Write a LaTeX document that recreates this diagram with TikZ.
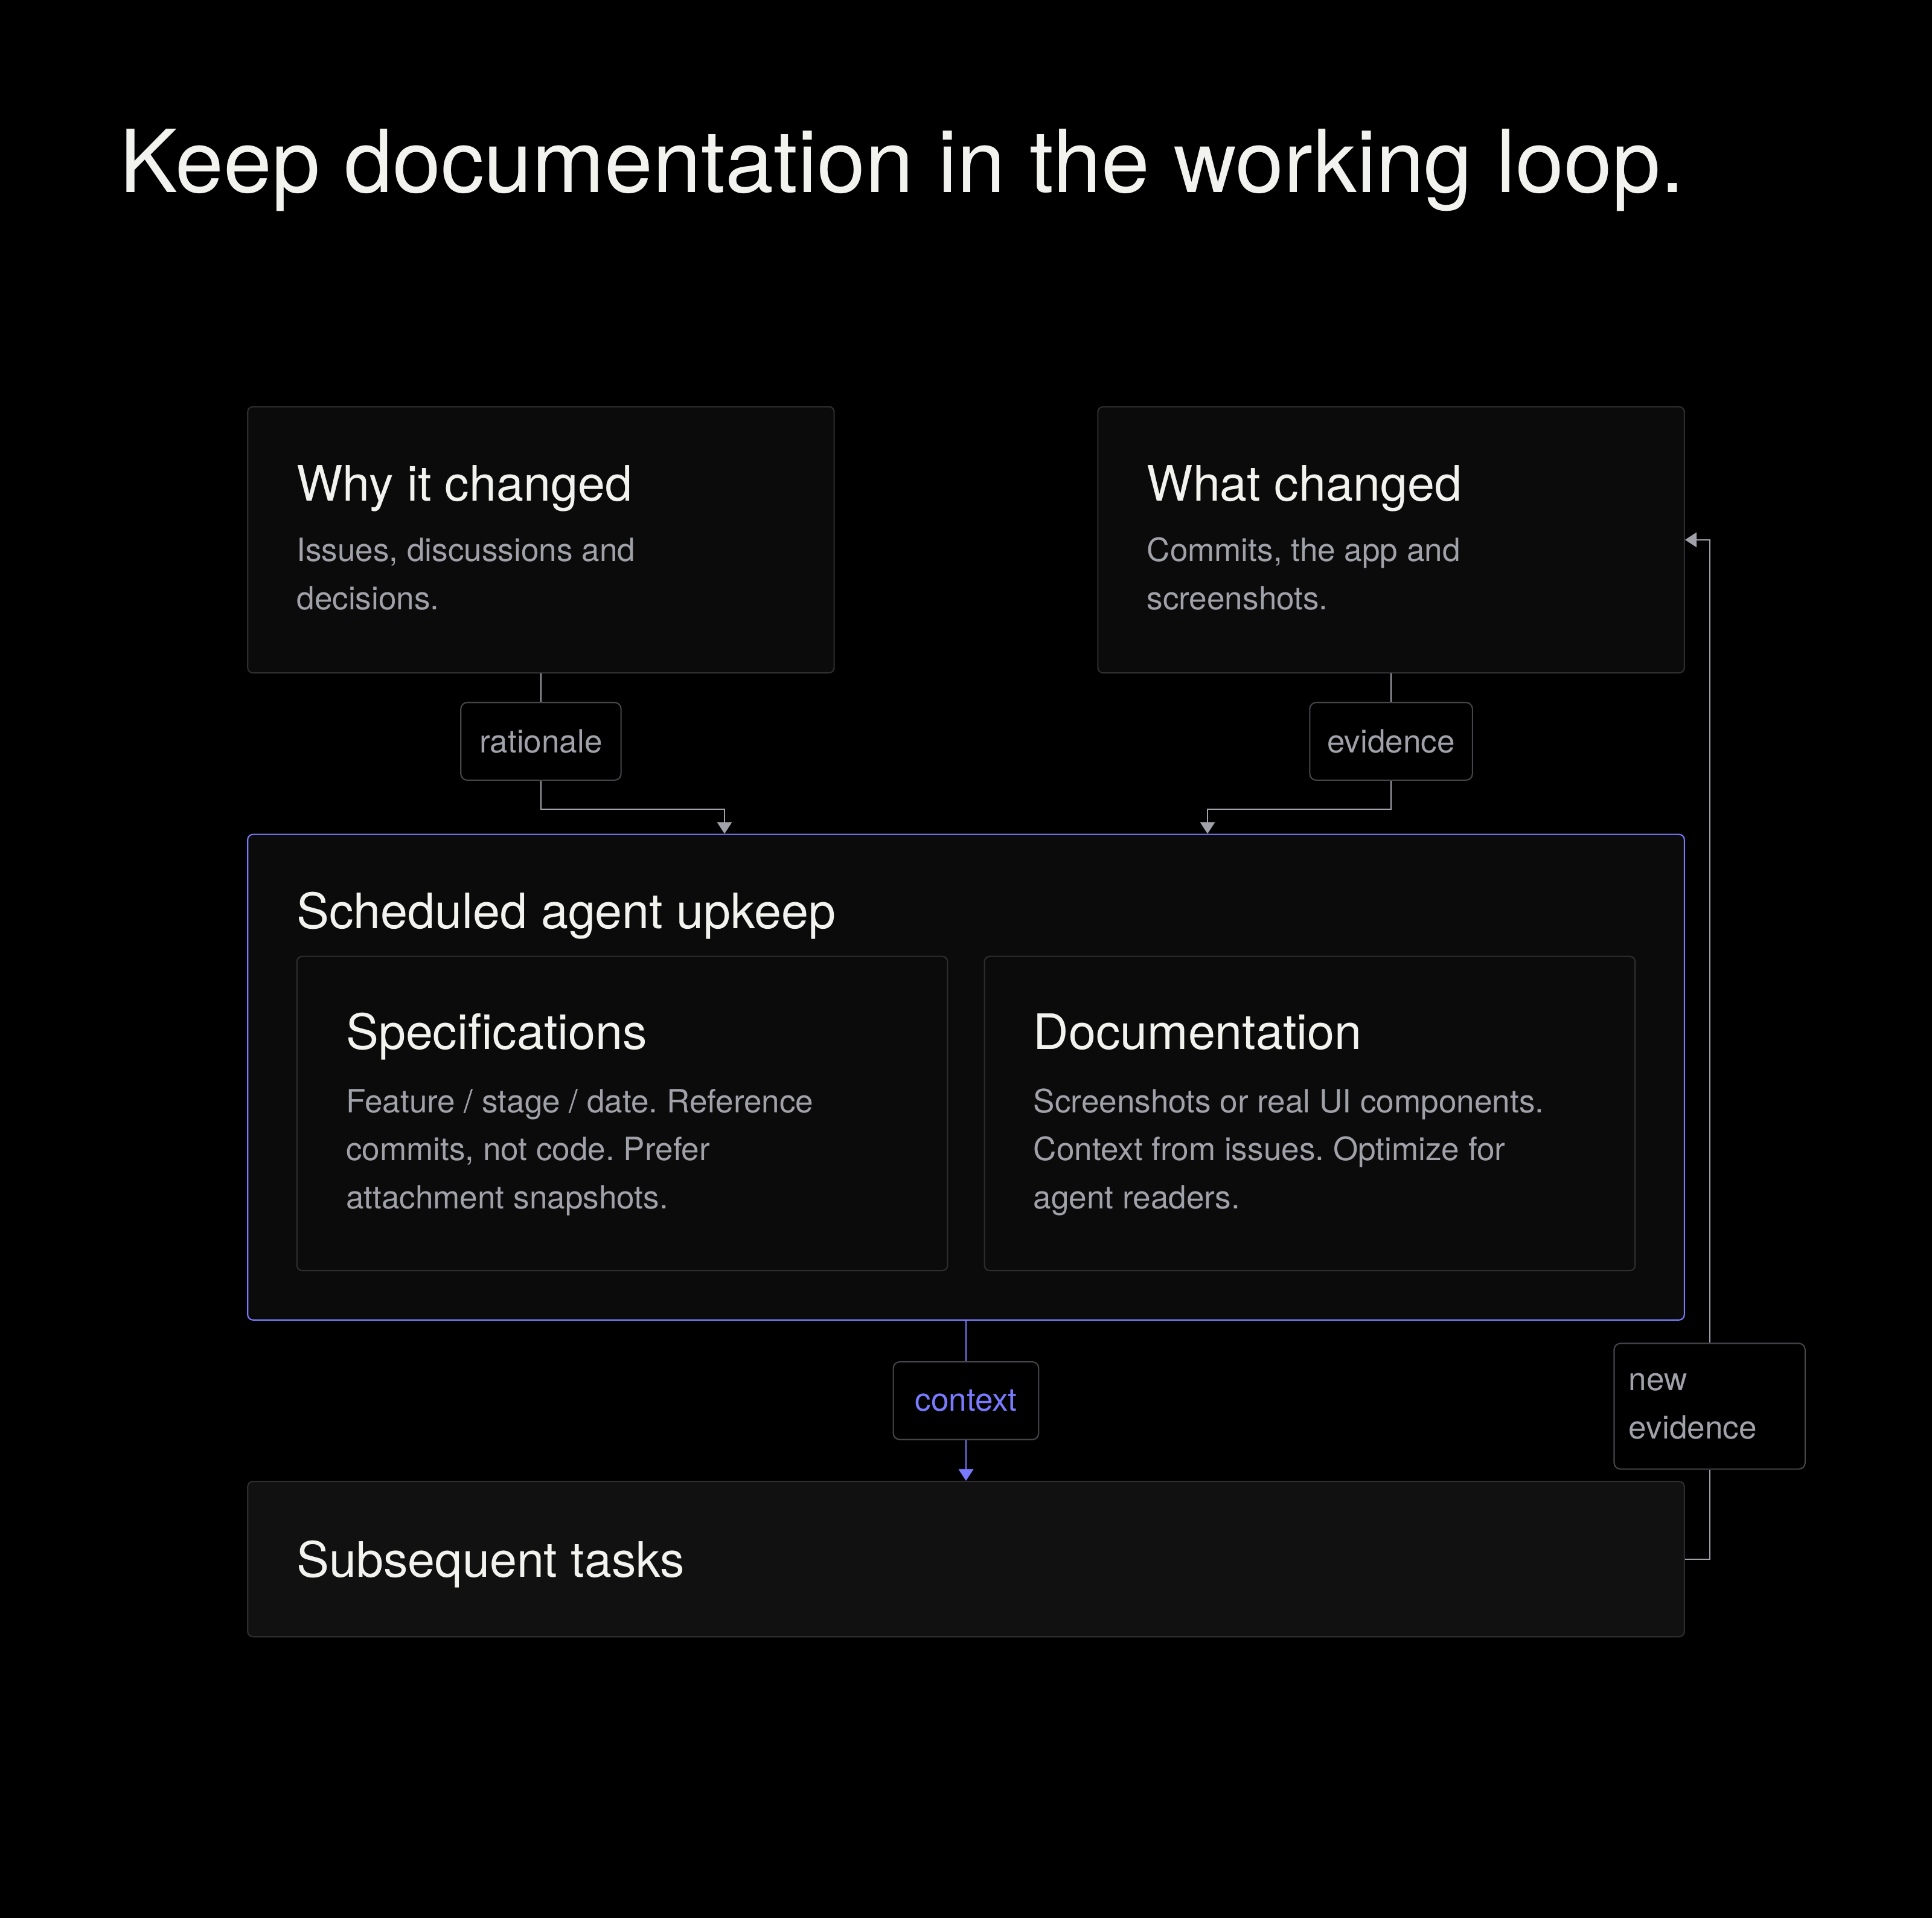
\documentclass[tikz,border=0pt]{standalone}
\usepackage{fontspec}
\setmainfont{TeX Gyre Heros}
\usetikzlibrary{arrows.meta, positioning}
\definecolor{bg}{RGB}{0,0,0}
\definecolor{card}{RGB}{11,11,11}
\definecolor{cardb}{RGB}{17,17,17}
\definecolor{edge}{RGB}{46,46,50}
\definecolor{tagedge}{RGB}{70,70,74}
\definecolor{ink}{RGB}{242,242,238}
\definecolor{mute}{RGB}{161,161,170}
\definecolor{blu}{RGB}{122,122,255}
\def\U{0.020408cm}
\frenchspacing

\begin{document}
\begin{tikzpicture}[x=\U, y=-\U,
		box/.style={draw=edge, fill=card, line width=0.6pt, rounded corners=2.5pt, inner sep=0},
		tag/.style={draw=tagedge, fill=bg, line width=0.6pt, rounded corners=3pt, inner sep=0, text=mute, font=\fontsize{15.1}{22.6}\selectfont},
		head/.style={anchor=base west, inner sep=0, text=ink, font=\fontsize{23}{27}\selectfont},
		note/.style={anchor=base west, inner sep=0, text=mute, align=left, font=\fontsize{15.1}{22.6}\selectfont},
		line/.style={draw=mute, line width=0.65pt},
		arrow/.style={draw=mute, line width=0.65pt, -{Triangle[length=5.5pt,width=7pt]}}
	]

	\useasboundingbox (0,0) rectangle (1568,1556);
	\fill[bg] (0,0) rectangle (1568,1556);

	% title
	\node[anchor=base west, inner sep=0, text=ink, font=\fontsize{40.9}{48}\selectfont] (title) at (97,156) {Keep documentation in the working loop.};

	% sources (notes sit on the baseline of their last line)
	\node[box, minimum width=476*\U, minimum height=216*\U] (why) at (439,438) {};
	\node[head] (why-h) at ([shift={(40,77)}]why.north west) {Why it changed};
	\node[note] (why-n) at ([shift={(40,165)}]why.north west) {Issues, discussions and\\decisions.};

	\node[box, minimum width=476*\U, minimum height=216*\U] (what) at (1129,438) {};
	\node[head] (what-h) at ([shift={(40,77)}]what.north west) {What changed};
	\node[note] (what-n) at ([shift={(40,165)}]what.north west) {Commits, the app and\\screenshots.};

	% upkeep
	\node[box, draw=blu, minimum width=1166*\U, minimum height=394*\U] (sched) at (784,874) {};
	\node[head] (sched-h) at ([shift={(40,77)}]sched.north west) {Scheduled agent upkeep};

	\node[box, minimum width=528*\U, minimum height=255*\U] (spec) at (505,903.5) {};
	\node[head] (spec-h) at ([shift={(40,76)}]spec.north west) {Specifications};
	\node[note] (spec-n) at ([shift={(40,205)}]spec.north west) {Feature / stage / date. Reference\\commits, not code. Prefer\\attachment snapshots.};

	\node[box, minimum width=528*\U, minimum height=255*\U] (doc) at (1063,903.5) {};
	\node[head] (doc-h) at ([shift={(40,76)}]doc.north west) {Documentation};
	\node[note] (doc-n) at ([shift={(40,205)}]doc.north west) {Screenshots or real UI components.\\Context from issues. Optimize for\\agent readers.};

	% tasks
	\node[box, fill=cardb, minimum width=1166*\U, minimum height=126*\U] (subs) at (784,1265) {};
	\node[head] (subs-h) at ([shift={(40,78)}]subs.north west) {Subsequent tasks};

	% tags
	\node[tag, minimum width=130*\U, minimum height=63*\U] (rat) at (439,601.5) {rationale};
	\node[tag, minimum width=132*\U, minimum height=63*\U] (evi) at (1129,601.5) {evidence};
	\node[tag, text=blu, minimum width=118*\U, minimum height=63*\U] (ctx) at (784,1136.5) {context};
	\node[tag, inner xsep=12*\U, text width=131*\U, align=left, minimum height=102*\U] (newev) at (1387.5,1141) {new\\evidence};

	% connectors
	\draw[line] (why.south) -- (rat.north);
	\draw[arrow] (rat.south) -- ++(0,23) -| ([xshift={-196*\U}]sched.north);
	\draw[line] (what.south) -- (evi.north);
	\draw[arrow] (evi.south) -- ++(0,23) -| ([xshift={196*\U}]sched.north);
	\draw[line, draw=blu] (sched.south) -- (ctx.north);
	\draw[arrow, draw=blu] (ctx.south) -- (subs.north);
	\draw[line] (subs.east) -| (newev.south);
	\draw[arrow] (newev.north) |- (what.east);

\end{tikzpicture}
\end{document}
